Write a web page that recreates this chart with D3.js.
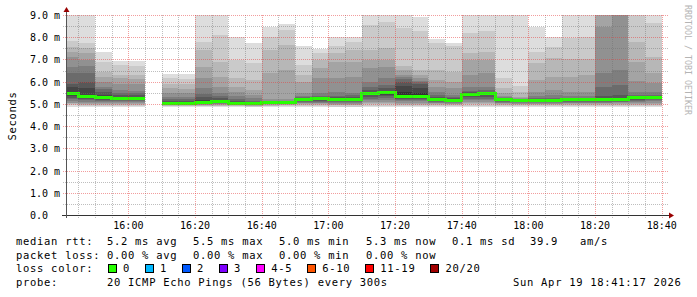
<!DOCTYPE html>
<html>
<head>
<meta charset="utf-8">
<script src="https://cdn.jsdelivr.net/npm/d3@7"></script>
<style>
  html, body { margin: 0; padding: 0; background: #fff; }
  svg { display: block; }
  text { font-family: 'DejaVu Sans Mono', monospace; fill: #000; }
</style>
</head>
<body>
<div id="chart"></div>
<script>
// time window of the graph
const day = [2026, 3, 19]
const startTime = '15:41:17'
const endTime = '18:41:17'

// each 5 min bin is keyed by its end time
const binEnds = [
  '15:45', '15:50', '15:55', '16:00', '16:05', '16:10', '16:15', '16:20', '16:25',
  '16:30', '16:35', '16:40', '16:45', '16:50', '16:55', '17:00', '17:05', '17:10',
  '17:15', '17:20', '17:25', '17:30', '17:35', '17:40', '17:45', '17:50', '17:55',
  '18:00', '18:05', '18:10', '18:15', '18:20', '18:25', '18:30', '18:35', '18:40'
]

// median rtt per bin (ms), null = no data
const medianMs = [
  5.45, 5.34, 5.28, 5.25, 5.25, null, 5.03, 5.03, 5.07,
  5.10, 5.02, 5.00, 5.08, 5.08, 5.22, 5.25, 5.22, 5.22,
  5.45, 5.50, 5.35, 5.35, 5.18, 5.15, 5.42, 5.47, 5.20,
  5.15, 5.15, 5.15, 5.18, 5.18, 5.18, 5.18, 5.27, 5.30
]

// 20 sorted ping times per bin (ms)
const pings = [
  [4.86, 4.93, 4.98, 5.02, 5.06, 5.12, 5.20, 5.28, 5.36, 5.42, 5.50, 5.75, 5.90, 6.38, 6.68, 7.12, 7.35, 7.58, 7.83, 9.60],
  [4.86, 4.92, 4.97, 5.01, 5.05, 5.10, 5.16, 5.22, 5.28, 5.32, 5.40, 5.70, 6.00, 6.38, 6.70, 6.97, 7.30, 7.50, 7.72, 9.60],
  [4.86, 4.92, 4.97, 5.01, 5.05, 5.09, 5.14, 5.19, 5.24, 5.27, 5.30, 5.40, 5.55, 5.65, 5.78, 6.00, 6.22, 6.45, 6.90, 7.35],
  [4.87, 4.92, 4.97, 5.01, 5.05, 5.09, 5.13, 5.17, 5.21, 5.24, 5.27, 5.33, 5.40, 5.50, 5.62, 5.90, 6.15, 6.30, 6.75, 6.93],
  [4.87, 4.92, 4.97, 5.01, 5.05, 5.09, 5.13, 5.17, 5.21, 5.24, 5.27, 5.32, 5.38, 5.48, 5.60, 5.88, 6.12, 6.28, 6.72, 6.93],
  null,
  [4.86, 4.89, 4.92, 4.94, 4.96, 4.98, 4.99, 5.00, 5.01, 5.02, 5.06, 5.10, 5.15, 5.22, 5.30, 5.48, 5.70, 5.90, 6.15, 6.35],
  [4.86, 4.89, 4.92, 4.94, 4.96, 4.98, 4.99, 5.00, 5.01, 5.02, 5.06, 5.10, 5.15, 5.22, 5.30, 5.47, 5.68, 5.88, 6.13, 6.35],
  [4.86, 4.89, 4.92, 4.95, 4.97, 4.99, 5.01, 5.03, 5.05, 5.06, 5.10, 5.18, 5.30, 5.45, 5.70, 6.15, 6.68, 7.43, 7.80, 9.60],
  [4.86, 4.89, 4.92, 4.95, 4.98, 5.00, 5.02, 5.04, 5.06, 5.09, 5.12, 5.17, 5.25, 5.35, 5.50, 5.78, 6.22, 6.90, 8.10, 9.60],
  [4.86, 4.89, 4.91, 4.93, 4.95, 4.97, 4.98, 4.99, 5.00, 5.01, 5.05, 5.10, 5.15, 5.22, 5.35, 5.55, 5.78, 6.15, 6.97, 8.00],
  [4.86, 4.88, 4.90, 4.92, 4.94, 4.96, 4.97, 4.98, 4.99, 4.99, 5.03, 5.06, 5.10, 5.15, 5.25, 5.40, 5.62, 6.07, 6.85, 7.72],
  [4.86, 4.89, 4.92, 4.95, 4.98, 5.00, 5.02, 5.04, 5.06, 5.07, 5.10, 5.11, 5.12, 5.13, 5.15, 5.22, 6.38, 7.43, 8.02, 8.48],
  [4.87, 4.90, 4.93, 4.96, 4.98, 5.00, 5.02, 5.04, 5.06, 5.07, 5.10, 5.11, 5.12, 5.13, 5.15, 5.20, 6.53, 7.65, 8.33, 8.60],
  [4.86, 4.90, 4.94, 4.98, 5.02, 5.06, 5.10, 5.14, 5.18, 5.21, 5.24, 5.26, 5.28, 5.30, 5.35, 5.48, 6.00, 6.30, 6.75, 7.60],
  [4.86, 4.90, 4.94, 4.98, 5.02, 5.06, 5.10, 5.15, 5.20, 5.24, 5.26, 5.28, 5.30, 5.36, 5.48, 6.15, 6.60, 6.97, 7.28, 7.45],
  [4.84, 4.88, 4.93, 4.97, 5.01, 5.05, 5.09, 5.13, 5.17, 5.21, 5.24, 5.27, 5.30, 5.35, 5.55, 6.15, 6.90, 7.28, 7.62, 8.00],
  [4.84, 4.88, 4.93, 4.97, 5.01, 5.05, 5.09, 5.13, 5.17, 5.21, 5.24, 5.27, 5.30, 5.38, 5.50, 6.22, 6.90, 7.43, 7.80, 8.03],
  [4.86, 4.92, 4.98, 5.04, 5.10, 5.17, 5.24, 5.31, 5.38, 5.43, 5.48, 5.52, 5.62, 5.75, 6.00, 6.60, 6.97, 7.43, 8.55, 9.60],
  [4.86, 4.92, 4.98, 5.04, 5.10, 5.18, 5.26, 5.34, 5.42, 5.48, 5.54, 5.60, 5.70, 5.85, 6.15, 6.68, 6.97, 7.50, 8.70, 9.60],
  [4.86, 4.91, 4.96, 5.01, 5.06, 5.12, 5.18, 5.24, 5.29, 5.33, 5.55, 5.80, 6.00, 6.10, 6.22, 6.30, 6.53, 6.70, 8.40, 9.60],
  [4.86, 4.91, 4.96, 5.01, 5.06, 5.12, 5.18, 5.24, 5.29, 5.33, 5.50, 5.70, 5.90, 6.00, 6.05, 6.15, 6.30, 6.53, 8.30, 8.92],
  [4.86, 4.90, 4.94, 4.98, 5.02, 5.06, 5.09, 5.12, 5.15, 5.17, 5.21, 5.25, 5.30, 5.40, 5.55, 5.78, 6.07, 6.53, 7.72, 7.90],
  [4.86, 4.90, 4.94, 4.98, 5.01, 5.04, 5.07, 5.10, 5.12, 5.14, 5.17, 5.20, 5.25, 5.30, 5.40, 5.70, 6.00, 6.45, 7.60, 7.72],
  [4.86, 4.92, 4.98, 5.04, 5.10, 5.17, 5.24, 5.31, 5.37, 5.41, 5.45, 5.48, 5.52, 5.60, 5.78, 6.30, 6.97, 7.28, 8.18, 9.60],
  [4.86, 4.92, 4.98, 5.04, 5.10, 5.17, 5.24, 5.32, 5.40, 5.45, 5.49, 5.52, 5.55, 5.62, 5.78, 6.38, 6.97, 7.35, 8.30, 9.60],
  [4.86, 4.90, 4.94, 4.98, 5.02, 5.06, 5.10, 5.13, 5.16, 5.19, 5.22, 5.23, 5.25, 5.27, 5.30, 5.35, 5.48, 5.70, 6.15, 9.60],
  [4.86, 4.90, 4.94, 4.98, 5.01, 5.04, 5.07, 5.10, 5.12, 5.14, 5.17, 5.18, 5.19, 5.20, 5.22, 5.25, 5.33, 5.55, 5.80, 9.60],
  [4.86, 4.90, 4.94, 4.98, 5.01, 5.04, 5.07, 5.10, 5.12, 5.14, 5.17, 5.18, 5.20, 5.25, 5.35, 5.55, 6.07, 6.83, 7.35, 8.45],
  [4.86, 4.90, 4.94, 4.98, 5.01, 5.04, 5.07, 5.10, 5.12, 5.14, 5.17, 5.18, 5.22, 5.28, 5.40, 5.62, 6.22, 7.05, 7.58, 8.03],
  [4.86, 4.90, 4.94, 4.98, 5.02, 5.06, 5.09, 5.12, 5.15, 5.17, 5.20, 5.22, 5.24, 5.28, 5.35, 5.55, 6.22, 7.00, 7.95, 9.60],
  [4.86, 4.90, 4.94, 4.98, 5.02, 5.06, 5.09, 5.12, 5.15, 5.17, 5.20, 5.22, 5.24, 5.28, 5.35, 5.55, 6.30, 7.00, 8.03, 9.60],
  [4.86, 4.90, 4.94, 4.98, 5.02, 5.06, 5.09, 5.12, 5.15, 5.17, 5.21, 5.25, 5.35, 5.78, 6.38, 8.48, 9.60, 9.80, 10.0, 10.5],
  [4.87, 4.91, 4.95, 4.99, 5.03, 5.07, 5.10, 5.13, 5.15, 5.17, 5.21, 5.25, 5.40, 5.85, 6.53, 9.50, 9.60, 9.80, 10.0, 10.5],
  [4.86, 4.91, 4.96, 5.01, 5.06, 5.10, 5.14, 5.18, 5.22, 5.25, 5.30, 5.32, 5.35, 5.40, 5.55, 6.05, 6.90, 7.80, 9.40, 9.80],
  [4.86, 4.91, 4.96, 5.01, 5.06, 5.11, 5.16, 5.21, 5.25, 5.28, 5.32, 5.34, 5.37, 5.42, 5.55, 5.93, 6.38, 7.12, 8.62, 9.60]
]

const yTicks = [0, 1, 2, 3, 4, 5, 6, 7, 8, 9]
const yTickLabels = ['0.0', '1.0 m', '2.0 m', '3.0 m', '4.0 m', '5.0 m', '6.0 m', '7.0 m', '8.0 m', '9.0 m']
const yMinorTicks = [0.5, 1.5, 2.5, 3.5, 4.5, 5.5, 6.5, 7.5, 8.5]
const yMax = 9

const rttStats = ['5.2 ms avg', '5.5 ms max', '5.0 ms min', '5.3 ms now', '0.1 ms sd', '39.9', 'am/s']
const lossStats = ['0.00 % avg', '0.00 % max', '0.00 % min', '0.00 % now']
const lossLabels = ['0', '1', '2', '3', '4-5', '6-10', '11-19', '20/20']
const lossColors = ['#26ff00', '#00b8ff', '#0059ff', '#7e00ff', '#ff00ff', '#ff5500', '#ff0000', '#a10000']
const probeText = '20 ICMP Echo Pings (56 Bytes) every 300s'
const stampText = 'Sun Apr 19 18:41:17 2026'

const WIDTH = 697
const HEIGHT = 297
const PLOT = { left: 66, right: 666, top: 15, bottom: 215 }
const STEP_MS = 5 * 60 * 1000

const toDate = s => {
  const [h, m, sec] = s.split(':').map(Number)
  return new Date(day[0], day[1], day[2], h, m, sec || 0)
}

const x = d3.scaleTime()
            .domain([toDate(startTime), toDate(endTime)])
            .range([PLOT.left, PLOT.right])
const y = d3.scaleLinear()
            .domain([0, yMax])
            .range([PLOT.bottom, PLOT.top])

// smokeping shade: outer pairs light, inner dark
const smokeColor = layer => {
  const c = Math.floor(190 / 10 * (10 - layer)) + 50
  return d3.rgb(c, c, c).formatHex()
}

const svg = d3.select('#chart').append('svg')
              .attr('width', WIDTH)
              .attr('height', HEIGHT)

svg.append('rect')
     .attr('width', WIDTH)
     .attr('height', HEIGHT)
     .attr('fill', '#ffffff')

svg.append('defs')
     .append('clipPath')
       .attr('id', 'plot-clip')
         .append('rect')
           .attr('x', PLOT.left)
           .attr('y', PLOT.top)
           .attr('width', PLOT.right - PLOT.left)
           .attr('height', PLOT.bottom - PLOT.top)

const bins = binEnds.map((e, i) => {
  const end = toDate(e)
  const start = new Date(Math.max(end - STEP_MS, x.domain()[0]))
  return { start, end, pings: pings[i], median: medianMs[i] }
})

// smoke layers
const smoke = svg.append('g')
                 .attr('clip-path', 'url(#plot-clip)')
                 .attr('shape-rendering', 'crispEdges')

bins.filter(d => d.pings).forEach(d => {
  for (let layer = 1; layer <= 10; layer++) {
    const lo = d.pings[layer - 1]
    const hi = Math.min(d.pings[20 - layer], yMax + 0.5)
    smoke.append('rect')
           .attr('x', x(d.start))
           .attr('width', x(d.end) - x(d.start))
           .attr('y', y(hi))
           .attr('height', y(lo) - y(hi))
           .attr('fill', smokeColor(layer))
  }
})

// median line, step shaped, broken where data is missing
const medianPoints = []
bins.forEach(d => {
  if (d.median == null) {
    medianPoints.push(null)
  } else {
    medianPoints.push([d.start, d.median])
    medianPoints.push([d.end, d.median])
  }
})

const medianLine = d3.line()
                     .defined(d => d !== null)
                     .x(d => x(d[0]))
                     .y(d => y(d[1]))

svg.append('path')
     .attr('clip-path', 'url(#plot-clip)')
     .attr('d', medianLine(medianPoints))
     .attr('fill', 'none')
     .attr('stroke', lossColors[0])
     .attr('stroke-width', 3)
     .attr('shape-rendering', 'crispEdges')

// grid on top of the smoke
const grid = svg.append('g')
                .attr('shape-rendering', 'crispEdges')
                .attr('stroke-dasharray', '1,1')

const minorTimes = x.ticks(d3.timeMinute.every(5))
const majorTimes = x.ticks(d3.timeMinute.every(20))
const isMajorTime = t => t.getMinutes() % 20 === 0

grid.selectAll('line.vminor')
    .data(minorTimes.filter(t => !isMajorTime(t)))
    .enter()
      .append('line')
      .attr('class', 'vminor')
      .attr('x1', d => Math.round(x(d)) + 0.5)
      .attr('x2', d => Math.round(x(d)) + 0.5)
      .attr('y1', PLOT.top)
      .attr('y2', PLOT.bottom + 3)
      .attr('stroke', 'rgba(110,110,110,0.45)')

grid.selectAll('line.hminor')
    .data(yMinorTicks)
    .enter()
      .append('line')
      .attr('class', 'hminor')
      .attr('x1', PLOT.left - 3)
      .attr('x2', PLOT.right + 3)
      .attr('y1', d => Math.round(y(d)) + 0.5)
      .attr('y2', d => Math.round(y(d)) + 0.5)
      .attr('stroke', 'rgba(110,110,110,0.45)')

grid.selectAll('line.vmajor')
    .data(majorTimes)
    .enter()
      .append('line')
      .attr('class', 'vmajor')
      .attr('x1', d => Math.round(x(d)) + 0.5)
      .attr('x2', d => Math.round(x(d)) + 0.5)
      .attr('y1', PLOT.top)
      .attr('y2', PLOT.bottom + 3)
      .attr('stroke', 'rgba(230,60,60,0.5)')

grid.selectAll('line.hmajor')
    .data(yTicks.filter(v => v > 0))
    .enter()
      .append('line')
      .attr('class', 'hmajor')
      .attr('x1', PLOT.left - 3)
      .attr('x2', PLOT.right + 3)
      .attr('y1', d => Math.round(y(d)) + 0.5)
      .attr('y2', d => Math.round(y(d)) + 0.5)
      .attr('stroke', 'rgba(230,60,60,0.5)')

// axes with arrow heads
const axis = svg.append('g').attr('shape-rendering', 'crispEdges')
axis.append('line')
      .attr('x1', PLOT.left - 4)
      .attr('x2', PLOT.right + 3)
      .attr('y1', PLOT.bottom + 0.5)
      .attr('y2', PLOT.bottom + 0.5)
      .attr('stroke', '#333')
axis.append('line')
      .attr('x1', PLOT.left + 0.5)
      .attr('x2', PLOT.left + 0.5)
      .attr('y1', PLOT.bottom + 3)
      .attr('y2', PLOT.top - 4)
      .attr('stroke', '#555')

svg.append('path')
     .attr('d', `M${PLOT.left + 0.5},${PLOT.top - 8} L${PLOT.left + 3.5},${PLOT.top - 3} L${PLOT.left - 2.5},${PLOT.top - 3} Z`)
     .attr('fill', '#990000')
svg.append('path')
     .attr('d', `M${PLOT.right + 8},${PLOT.bottom + 0.5} L${PLOT.right + 3},${PLOT.bottom + 3.5} L${PLOT.right + 3},${PLOT.bottom - 2.5} Z`)
     .attr('fill', '#990000')

// tick labels
svg.selectAll('text.ylabel')
   .data(yTicks)
   .enter()
     .append('text')
     .attr('class', 'ylabel')
     .attr('x', 30)
     .attr('y', d => y(d) + 4)
     .attr('font-size', 10)
     .text((d, i) => yTickLabels[i])

svg.selectAll('text.xlabel')
   .data(majorTimes)
   .enter()
     .append('text')
     .attr('class', 'xlabel')
     .attr('x', d => x(d))
     .attr('y', PLOT.bottom + 14)
     .attr('font-size', 10)
     .attr('text-anchor', 'middle')
     .text(d3.timeFormat('%H:%M'))

// vertical titles
const LEGEND_FONT = 10.5
const LEGEND_SPACING = 0.7

svg.append('text')
     .attr('transform', `translate(15.5, ${(PLOT.top + PLOT.bottom) / 2 + 1}) rotate(-90)`)
     .attr('text-anchor', 'middle')
     .attr('font-size', LEGEND_FONT)
     .attr('letter-spacing', LEGEND_SPACING)
     .text('Seconds')

svg.append('text')
     .attr('transform', 'translate(685, 5) rotate(90)')
     .attr('font-size', 8.3)
     .style('fill', '#b4b4b4')
     .text('RRDTOOL / TOBI OETIKER')

// legend block
const ROWS = [245, 258.7, 272.4, 286]
const COLS = [107, 193, 279, 366, 452, 530, 580]

const legendText = (tx, ty, s) => svg.append('text')
                                      .attr('x', tx)
                                      .attr('y', ty)
                                      .attr('font-size', LEGEND_FONT)
                                      .attr('letter-spacing', LEGEND_SPACING)
                                      .attr('xml:space', 'preserve')
                                      .text(s)

legendText(16, ROWS[0], 'median rtt:')
rttStats.forEach((s, i) => legendText(COLS[i], ROWS[0], s))

legendText(16, ROWS[1], 'packet loss:')
lossStats.forEach((s, i) => legendText(COLS[i], ROWS[1], s))

legendText(16, ROWS[2], 'loss color:')
let boxX = 108
lossLabels.forEach((label, i) => {
  svg.append('rect')
       .attr('x', boxX + 0.5)
       .attr('y', ROWS[2] - 7.5)
       .attr('width', 8)
       .attr('height', 8)
       .attr('fill', lossColors[i])
       .attr('stroke', '#000')
       .attr('shape-rendering', 'crispEdges')
  const t = legendText(boxX + 15, ROWS[2], label)
  boxX = boxX + 15 + t.node().getComputedTextLength() + 15
})

legendText(16, ROWS[3], 'probe:')
legendText(COLS[0], ROWS[3], probeText)
legendText(513, ROWS[3], stampText)
</script>
</body>
</html>
